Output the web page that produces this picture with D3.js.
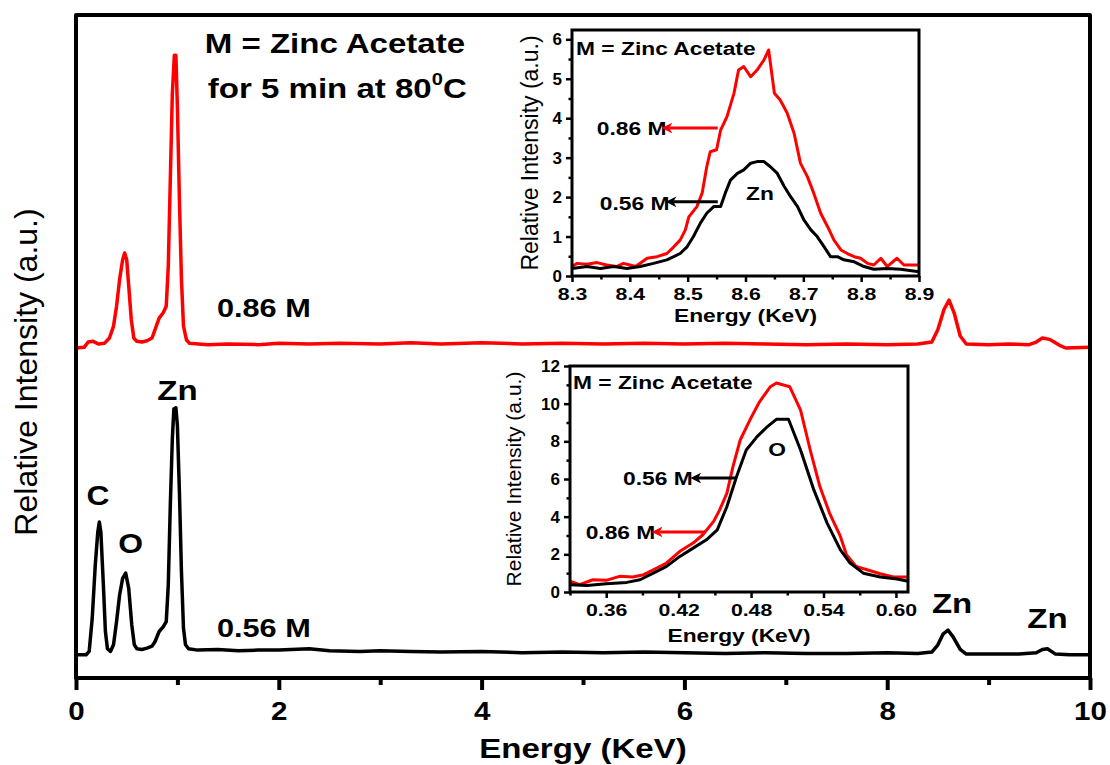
<!DOCTYPE html>
<html>
<head>
<meta charset="utf-8">
<script src="https://cdn.jsdelivr.net/npm/d3@7"></script>
<style>
  body { margin: 0; background: #fff; }
  svg { display: block; }
  text { font-family: Arial, "Liberation Sans", sans-serif; fill: #000; }
</style>
</head>
<body>
<div id="chart"></div>
<script>
// ---------- main EDX spectra ----------
const energy056 = [0, 0.10, 0.13, 0.16, 0.19, 0.215, 0.23, 0.245, 0.27, 0.29, 0.31, 0.34, 0.37, 0.40, 0.43, 0.46, 0.49, 0.52, 0.55, 0.575,
  0.60, 0.65, 0.70, 0.75, 0.78, 0.82, 0.86, 0.89, 0.91, 0.93, 0.95, 0.965, 0.985, 1.00, 1.02, 1.04, 1.06, 1.08, 1.11,
  1.2, 1.4, 1.6, 1.8, 2.0, 2.3, 2.5, 2.8, 3.0, 3.3, 3.6, 4.0, 4.4, 4.8, 5.2, 5.6, 6.0, 6.4, 6.8, 7.2, 7.6, 8.0, 8.3,
  8.44, 8.5, 8.55, 8.6, 8.65, 8.72, 8.78, 9.0, 9.3, 9.47, 9.53, 9.58, 9.66, 9.8, 10.0];
const counts056 = [3.5, 3.5, 4.0, 9, 17, 22, 23.5, 22, 14, 7, 4.4, 4.0, 5.0, 8.5, 12.5, 15.0, 15.8, 13.5, 8.0, 5.0,
  4.4, 4.3, 4.5, 4.8, 5.5, 7.0, 7.7, 8.5, 14, 26, 36, 40.5, 40.7, 38, 28, 16, 7.5, 5.0, 4.4,
  4.2, 4.3, 4.1, 4.2, 4.2, 4.4, 4.1, 4.0, 4.1, 4.0, 3.9, 4.0, 3.8, 3.9, 3.8, 3.9, 3.8, 3.7, 3.8, 3.7, 3.7, 3.8, 3.7,
  3.9, 5.0, 6.6, 7.2, 6.2, 4.3, 3.6, 3.6, 3.6, 3.8, 4.3, 4.4, 3.6, 3.5, 3.5];

const energy086 = [0, 0.08, 0.12, 0.17, 0.22, 0.28, 0.33, 0.37, 0.40, 0.43, 0.46, 0.48, 0.50, 0.52, 0.545, 0.57,
  0.60, 0.65, 0.70, 0.75, 0.78, 0.82, 0.86, 0.89, 0.91, 0.93, 0.95, 0.97, 0.985, 1.00, 1.02, 1.04, 1.06, 1.09, 1.12,
  1.3, 1.5, 1.8, 2.0, 2.3, 2.6, 3.0, 3.3, 3.6, 4.0, 4.4, 4.8, 5.2, 5.6, 6.0, 6.4, 6.8, 7.2, 7.6, 8.0, 8.3,
  8.44, 8.5, 8.56, 8.61, 8.66, 8.72, 8.78, 9.0, 9.2, 9.4, 9.47, 9.53, 9.6, 9.7, 9.76, 10.0];
const counts086 = [49.7, 49.8, 50.6, 50.7, 50.3, 50.4, 51.2, 53, 56, 60, 63, 64, 63, 59, 54, 51.2,
  50.7, 50.6, 50.8, 51.2, 52.5, 54.2, 55, 56, 62, 75, 88, 93.8, 93.8, 86, 72, 60, 53, 50.9, 50.4,
  50.2, 50.3, 50.2, 50.4, 50.3, 50.4, 50.3, 50.5, 50.3, 50.5, 50.3, 50.4, 50.3, 50.4, 50.3, 50.4, 50.3, 50.2, 50.3, 50.2, 50.3,
  50.6, 52.5, 55.5, 56.9, 55, 51.5, 50.3, 50.2, 50.3, 50.2, 50.6, 51.2, 51.0, 50.1, 49.7, 49.8];

const mainTicks = [0, 2, 4, 6, 8, 10];
const mainMinor = [1, 3, 5, 7, 9];

// ---------- inset: Zn K line ----------
const znEnergy086 = [8.3, 8.309, 8.326, 8.343, 8.36, 8.377, 8.389, 8.4, 8.41, 8.43, 8.447, 8.464, 8.476, 8.487, 8.496, 8.502,
  8.516, 8.525, 8.533, 8.539, 8.55, 8.557, 8.568, 8.58, 8.588, 8.597, 8.609, 8.62, 8.632, 8.64, 8.65, 8.66, 8.672, 8.684,
  8.695, 8.707, 8.718, 8.73, 8.742, 8.753, 8.765, 8.776, 8.788, 8.799, 8.811, 8.822, 8.834, 8.845, 8.862, 8.874, 8.9];
const znCounts086 = [0.24, 0.32, 0.30, 0.34, 0.28, 0.24, 0.32, 0.28, 0.24, 0.45, 0.49, 0.57, 0.74, 0.91, 1.17, 1.5,
  1.76, 2.1, 2.77, 3.15, 3.2, 3.7, 4.04, 4.63, 5.22, 5.31, 5.05, 5.22, 5.48, 5.73, 4.63, 4.46, 4.13, 3.62,
  2.86, 2.52, 2.1, 1.59, 1.25, 0.91, 0.66, 0.57, 0.49, 0.45, 0.32, 0.28, 0.45, 0.24, 0.45, 0.28, 0.28];
const znEnergy056 = [8.3, 8.326, 8.349, 8.372, 8.395, 8.418, 8.441, 8.464, 8.476, 8.487, 8.499, 8.51, 8.522, 8.533, 8.545,
  8.557, 8.565, 8.574, 8.586, 8.597, 8.609, 8.62, 8.632, 8.643, 8.655, 8.667, 8.678, 8.69, 8.701, 8.713, 8.724, 8.736,
  8.747, 8.759, 8.77, 8.788, 8.805, 8.822, 8.845, 8.868, 8.9];
const znCounts056 = [0.19, 0.24, 0.19, 0.24, 0.19, 0.24, 0.32, 0.41, 0.49, 0.57, 0.74, 1.0, 1.34, 1.59, 1.76,
  1.76, 2.1, 2.43, 2.6, 2.69, 2.86, 2.9, 2.9, 2.77, 2.6, 2.27, 2.01, 1.76, 1.42, 1.17, 1.0, 0.74,
  0.49, 0.49, 0.41, 0.36, 0.24, 0.17, 0.19, 0.17, 0.11];
const znXTicks = [8.3, 8.4, 8.5, 8.6, 8.7, 8.8, 8.9];
const znYTicks = [0, 1, 2, 3, 4, 5, 6];

// ---------- inset: O K line ----------
const oEnergy086 = [0.33, 0.338, 0.349, 0.36, 0.371, 0.382, 0.391, 0.399, 0.41, 0.421, 0.432, 0.44, 0.449, 0.454, 0.46,
  0.465, 0.471, 0.479, 0.487, 0.496, 0.501, 0.512, 0.521, 0.529, 0.537, 0.545, 0.554, 0.559, 0.567, 0.576, 0.587, 0.598, 0.61];
const oCounts086 = [0.57, 0.39, 0.65, 0.62, 0.83, 0.8, 0.92, 1.18, 1.54, 2.16, 2.6, 3.04, 3.75, 4.36, 5.25,
  6.66, 8.07, 9.13, 10.1, 10.9, 11.1, 10.9, 9.66, 7.54, 5.6, 4.19, 2.95, 1.98, 1.36, 1.18, 0.97, 0.8, 0.8];
const oEnergy056 = [0.33, 0.344, 0.36, 0.377, 0.388, 0.399, 0.41, 0.421, 0.432, 0.443, 0.452, 0.46, 0.468, 0.476, 0.485,
  0.493, 0.501, 0.511, 0.521, 0.532, 0.543, 0.554, 0.562, 0.573, 0.587, 0.601, 0.61];
const oCounts056 = [0.39, 0.34, 0.44, 0.51, 0.65, 1.0, 1.36, 1.89, 2.33, 2.77, 3.3, 4.54, 6.13, 7.54, 8.25,
  8.75, 9.17, 9.17, 7.54, 5.42, 3.66, 2.24, 1.54, 1.0, 0.8, 0.69, 0.57];
const oXTicks = [0.36, 0.42, 0.48, 0.54, 0.60];
const oXMinor = [0.33, 0.39, 0.45, 0.51, 0.57];
const oYTicks = [0, 2, 4, 6, 8, 10, 12];

const RED = '#ff0000';
const SX = 1.18; // the whole figure is stretched sideways a bit

const svg = d3.select('#chart').append('svg').attr('width', 1110).attr('height', 765);

function label(g, x, y, s, size, o = {}) {
  const t = g.append('text')
    .attr('transform', `translate(${x},${y}) scale(${o.sx || SX},1)`)
    .attr('font-size', size)
    .attr('font-weight', o.weight || 'bold')
    .attr('text-anchor', o.anchor || 'start');
  t.text(s);
  return t;
}

function zip(xs, ys) { return xs.map((d, i) => [d, ys[i]]); }

function drawLine(g, x, y, xs, ys, color, w) {
  const line = d3.line().x(d => x(d[0])).y(d => y(d[1]));
  g.append('path').datum(zip(xs, ys))
    .attr('d', line)
    .attr('fill', 'none')
    .attr('stroke', color)
    .attr('stroke-width', w)
    .attr('stroke-linejoin', 'round');
}

function styleAxis(a, w, size, sx) {
  a.select('.domain').remove();
  a.selectAll('.tick line').attr('stroke', '#000').attr('stroke-width', w);
  a.selectAll('.tick text').attr('font-size', size).attr('font-weight', 'bold')
    .attr('font-family', 'Arial, "Liberation Sans", sans-serif')
    .attr('transform', `scale(${sx},1)`);
}

/* ---------- main panel ---------- */
const x = d3.scaleLinear().domain([0, 10]).range([76, 1090]);
const y = d3.scaleLinear().domain([0, 100]).range([678, 14]);

const main = svg.append('g');
drawLine(main, x, y, energy086, counts086, RED, 3.5);
drawLine(main, x, y, energy056, counts056, '#000', 3.5);

const ax = main.append('g').attr('transform', 'translate(0,678)')
  .call(d3.axisBottom(x).tickValues(mainTicks).tickSize(12).tickSizeOuter(0).tickPadding(12).tickFormat(d3.format('d')));
styleAxis(ax, 4, 25, SX);
const axm = main.append('g').attr('transform', 'translate(0,678)')
  .call(d3.axisBottom(x).tickValues(mainMinor).tickSize(7).tickSizeOuter(0).tickFormat(''));
styleAxis(axm, 4, 25, SX);

main.append('rect').attr('x', 76).attr('y', 15).attr('width', 1014).attr('height', 663)
  .attr('fill', 'none').attr('stroke', '#000').attr('stroke-width', 4).attr('stroke-linejoin', 'round');

label(main, 583, 758, 'Energy (KeV)', 28, { anchor: 'middle' });
main.append('text')
  .attr('transform', 'translate(37,372) rotate(-90)')
  .attr('text-anchor', 'middle').attr('font-size', 32)
  .text('Relative Intensity (a.u.)');

label(main, x(1.27), y(94.1), 'M = Zinc Acetate', 28);
const t2 = label(main, x(1.30), y(87.3), 'for 5 min at 80', 28);
t2.append('tspan').attr('font-size', 17).attr('dy', -13).text('0');
t2.append('tspan').attr('dy', 13).text('C');
label(main, x(1.39), y(54.4), '0.86 M', 26);
label(main, x(1.39), y(6.2), '0.56 M', 26);
label(main, x(0.217), y(26.1), 'C', 27, { anchor: 'middle' });
label(main, x(0.54), y(18.8), 'O', 27, { anchor: 'middle' });
label(main, x(1.0), y(41.9), 'Zn', 28, { anchor: 'middle' });
label(main, x(8.64), y(9.8), 'Zn', 28, { anchor: 'middle' });
label(main, x(9.58), y(7.5), 'Zn', 28, { anchor: 'middle' });

/* ---------- arrow markers ---------- */
const defs = svg.append('defs');
[['arrRed', RED], ['arrBlk', '#000']].forEach(([id, c]) => {
  defs.append('marker').attr('id', id).attr('viewBox', '0 0 10 10')
    .attr('refX', 3).attr('refY', 5).attr('markerWidth', 4.2).attr('markerHeight', 3.6)
    .attr('orient', 'auto-start-reverse').attr('markerUnits', 'strokeWidth')
    .append('path').attr('d', 'M0,0 L10,5 L0,10 L3,5 z').attr('fill', c);
});

function arrow(g, x1, y1, x2, color, id) {
  g.append('line').attr('x1', x1).attr('y1', y1).attr('x2', x2).attr('y2', y1)
    .attr('stroke', color).attr('stroke-width', 3).attr('marker-start', `url(#${id})`);
}

function inset(cfg) {
  const g = svg.append('g');
  const [x0, x1] = cfg.xr, [y0, y1] = cfg.yr;
  const xs = d3.scaleLinear().domain(cfg.xd).range([x0, x1]);
  const ys = d3.scaleLinear().domain(cfg.yd).range([y0, y1]);
  g.append('rect').attr('x', x0).attr('y', y1).attr('width', x1 - x0).attr('height', y0 - y1).attr('fill', '#fff');

  drawLine(g, xs, ys, cfg.redX, cfg.redY, RED, 3);
  drawLine(g, xs, ys, cfg.blkX, cfg.blkY, '#000', 3);

  const bx = g.append('g').attr('transform', `translate(0,${y0})`)
    .call(d3.axisBottom(xs).tickValues(cfg.xTicks).tickSize(6).tickSizeOuter(0).tickPadding(6).tickFormat(cfg.xFmt));
  styleAxis(bx, 2.5, 17, 1.25);
  const bxm = g.append('g').attr('transform', `translate(0,${y0})`)
    .call(d3.axisBottom(xs).tickValues(cfg.xMinor).tickSize(3.5).tickSizeOuter(0).tickFormat(''));
  styleAxis(bxm, 2.5, 17, 1.25);
  const ly = g.append('g').attr('transform', `translate(${x0},0)`)
    .call(d3.axisLeft(ys).tickValues(cfg.yTicks).tickSize(6).tickSizeOuter(0).tickPadding(4).tickFormat(d3.format('d')));
  styleAxis(ly, 2.5, 17, 1.25);
  ly.selectAll('.tick text').attr('transform', null);
  const lym = g.append('g').attr('transform', `translate(${x0},0)`)
    .call(d3.axisLeft(ys).tickValues(cfg.yMinor).tickSize(3.5).tickSizeOuter(0).tickFormat(''));
  styleAxis(lym, 2.5, 17, 1.25);

  g.append('rect').attr('x', x0).attr('y', y1).attr('width', x1 - x0).attr('height', y0 - y1)
    .attr('fill', 'none').attr('stroke', '#000').attr('stroke-width', 3);

  label(g, (x0 + x1) / 2, cfg.titleY, 'Energy (KeV)', 19, { anchor: 'middle', sx: 1.2 });
  g.append('text')
    .attr('transform', `translate(${cfg.yTitleX},${(y0 + y1) / 2}) rotate(-90)`)
    .attr('text-anchor', 'middle').attr('font-size', cfg.yTitleSize)
    .text('Relative Intensity (a.u.)');
  return { g, xs, ys };
}

/* ---------- Zn inset ---------- */
const zn = inset({
  xr: [572, 919], yr: [276, 30], xd: [8.3, 8.9], yd: [0, 6.236],
  redX: znEnergy086, redY: znCounts086, blkX: znEnergy056, blkY: znCounts056,
  xTicks: znXTicks, xMinor: [8.35, 8.45, 8.55, 8.65, 8.75, 8.85], xFmt: d3.format('.1f'),
  yTicks: znYTicks, yMinor: [0.5, 1.5, 2.5, 3.5, 4.5, 5.5],
  titleY: 322, yTitleX: 538, yTitleSize: 23
});
label(zn.g, zn.xs(8.307), zn.ys(5.6), 'M = Zinc Acetate', 19, { sx: 1.2 });
label(zn.g, zn.xs(8.343), zn.ys(3.57), '0.86 M', 19, { sx: 1.2 });
label(zn.g, zn.xs(8.348), zn.ys(1.67), '0.56 M', 19, { sx: 1.2 });
label(zn.g, zn.xs(8.625), zn.ys(1.93), 'Zn', 19, { anchor: 'middle', sx: 1.2 });
arrow(zn.g, zn.xs(8.468), zn.ys(3.75), zn.xs(8.552), RED, 'arrRed');
arrow(zn.g, zn.xs(8.475), zn.ys(1.88), zn.xs(8.552), '#000', 'arrBlk');

/* ---------- O inset ---------- */
const ox = inset({
  xr: [570, 908], yr: [592, 366], xd: [0.33, 0.61], yd: [0, 12],
  redX: oEnergy086, redY: oCounts086, blkX: oEnergy056, blkY: oCounts056,
  xTicks: oXTicks, xMinor: oXMinor, xFmt: d3.format('.2f'),
  yTicks: oYTicks, yMinor: [1, 3, 5, 7, 9, 11],
  titleY: 642, yTitleX: 521, yTitleSize: 21
});
label(ox.g, ox.xs(0.3325), ox.ys(10.78), 'M = Zinc Acetate', 19, { sx: 1.2 });
label(ox.g, ox.xs(0.374), ox.ys(5.68), '0.56 M', 19, { sx: 1.2 });
label(ox.g, ox.xs(0.343), ox.ys(2.81), '0.86 M', 19, { sx: 1.2 });
label(ox.g, ox.xs(0.5015), ox.ys(7.22), 'O', 19, { anchor: 'middle', sx: 1.2 });
arrow(ox.g, ox.xs(0.436), ox.ys(6.05), ox.xs(0.468), '#000', 'arrBlk');
arrow(ox.g, ox.xs(0.404), ox.ys(3.19), ox.xs(0.442), RED, 'arrRed');
</script>
</body>
</html>
